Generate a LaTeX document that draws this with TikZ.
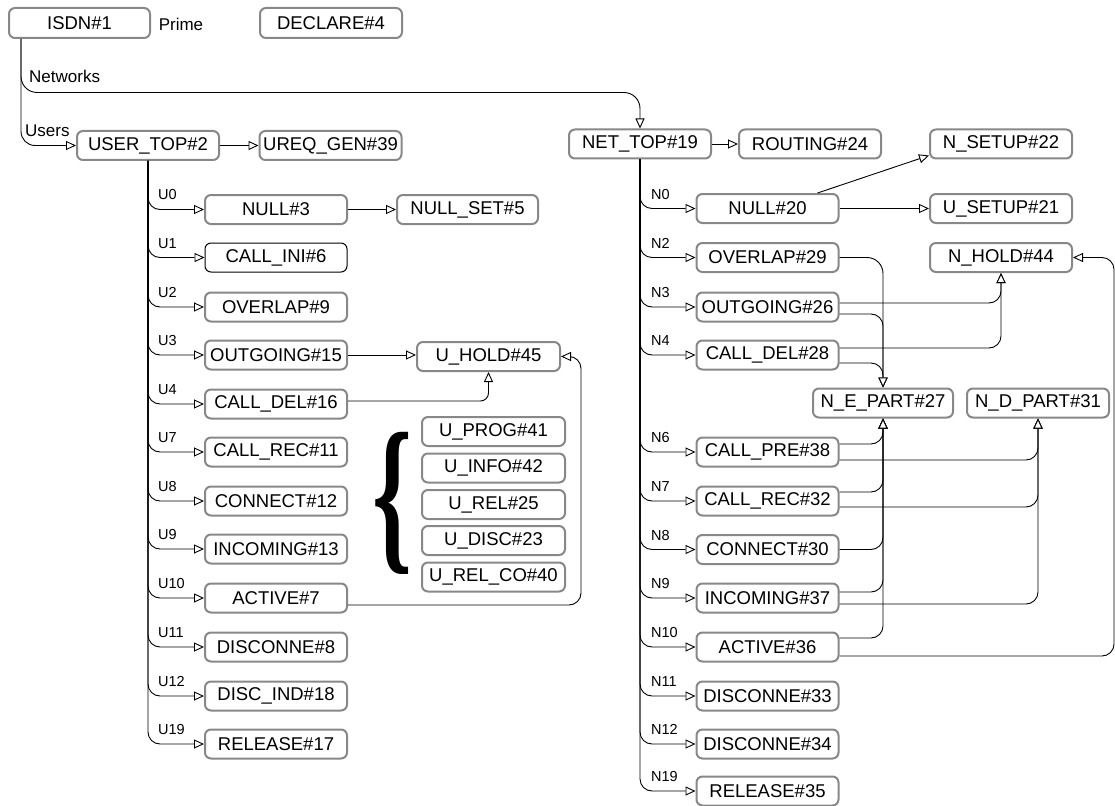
\documentclass[tikz,border=0pt]{standalone}
\usepackage{fontspec}
\setmainfont{Liberation Sans}
\newfontfamily\seriffont{Liberation Serif}
\usetikzlibrary{arrows.meta}
\definecolor{bord}{RGB}{136,136,136}
\begin{document}
\begin{tikzpicture}[x=1pt,y=-1pt,
  box/.style={rectangle, rounded corners=6pt, draw=bord, line width=2pt, fill=white,
    minimum width=142pt, minimum height=29pt, inner sep=1pt, font=\fontsize{18.5}{20}\selectfont},
  lbl/.style={inner sep=0pt, font=\fontsize{14.5}{16}\selectfont, anchor=base west},
  elbl/.style={inner sep=0pt, font=\fontsize{17}{19}\selectfont, anchor=base west},
  arr/.style={draw=black, line width=0.9pt, -{Triangle[length=10pt,width=9pt,fill=white,line width=0.9pt]}},
  con/.style={arr, rounded corners=12pt}]
\fill[white] (0,0) rectangle (1115,805);
\useasboundingbox (0,0) rectangle (1115,805);

% top row
\node[box, minimum width=141pt, minimum height=30pt] (isdn) at (79.5,23) {ISDN\#1};
\node[elbl, anchor=center] (prime) at (181,24) {Prime};
\node[box, minimum height=30pt] (declare) at (331,23) {DECLARE\#4};

\node[box] (utop) at (148,145.5) {USER\_TOP\#2};
\node[box] (ureq) at (330.5,145.5) {UREQ\_GEN\#39};
\node[box] (nettop) at (640,144) {NET\_TOP\#19};
\node[box] (routing) at (810,144) {ROUTING\#24};
\node[box] (nsetup) at (1001,144) {N\_SETUP\#22};

% left column
\node[box] (null3) at (276,209.5) {NULL\#3};
\node[box, draw=black, line width=1pt] (cini6) at (276,257.5) {CALL\_INI\#6};
\node[box] (ovl9) at (276,307) {OVERLAP\#9};
\node[box] (out15) at (276,355) {OUTGOING\#15};
\node[box] (cdel16) at (276,404) {CALL\_DEL\#16};
\node[box] (crec11) at (276,452) {CALL\_REC\#11};
\node[box] (conn12) at (276,501) {CONNECT\#12};
\node[box] (inc13) at (276,549) {INCOMING\#13};
\node[box] (act7) at (276,598) {ACTIVE\#7};
\node[box] (disc8) at (276,647) {DISCONNE\#8};
\node[box] (dind18) at (276,696) {DISC\_IND\#18};
\node[box] (rel17) at (276,744) {RELEASE\#17};

\node[box, minimum width=141pt] (nullset5) at (467.5,209.5) {NULL\_SET\#5};
\node[box, minimum width=143pt] (uhold) at (488.5,356.5) {U\_HOLD\#45};
\node[box, minimum width=143pt] (uprog) at (493.5,431.5) {U\_PROG\#41};
\node[box, minimum width=143pt] (uinfo) at (493.5,468) {U\_INFO\#42};
\node[box, minimum width=143pt] (urel) at (493.5,504.5) {U\_REL\#25};
\node[box, minimum width=143pt] (udisc) at (493.5,540.5) {U\_DISC\#23};
\node[box, minimum width=143pt] (urelco) at (493.5,577) {U\_REL\_CO\#40};
\node[inner sep=0pt] (brace) at (392.5,503) {\resizebox*{40pt}{142pt}{\seriffont\bfseries\{}};

% right column
\node[box] (null20) at (767.5,208.5) {NULL\#20};
\node[box] (ovl29) at (767.5,257.5) {OVERLAP\#29};
\node[box] (out26) at (767.5,307) {OUTGOING\#26};
\node[box] (cdel28) at (767.5,355) {CALL\_DEL\#28};
\node[box] (cpre38) at (767.5,452) {CALL\_PRE\#38};
\node[box] (crec32) at (767.5,501) {CALL\_REC\#32};
\node[box] (conn30) at (767.5,549.5) {CONNECT\#30};
\node[box] (inc37) at (767.5,598) {INCOMING\#37};
\node[box] (act36) at (767.5,647) {ACTIVE\#36};
\node[box] (disc33) at (767.5,696) {DISCONNE\#33};
\node[box] (disc34) at (767.5,744) {DISCONNE\#34};
\node[box] (rel35) at (767.5,791) {RELEASE\#35};

\node[box] (usetup) at (1001,208.5) {U\_SETUP\#21};
\node[box] (nhold) at (1001,257.5) {N\_HOLD\#44};
\node[box, minimum width=140pt] (nepart) at (883,403) {N\_E\_PART\#27};
\node[box] (ndpart) at (1038,403) {N\_D\_PART\#31};

% ISDN connectors
\draw[con, rounded corners=16pt] ([xshift=13pt]isdn.south west) |- ([yshift=36pt]nettop.north) -- (nettop.north);
\node[elbl] (lnet) at (29,83) {Networks};
\draw[con, rounded corners=14pt] ([xshift=13pt]isdn.south west) |- (utop.west);
\node[elbl] (lusr) at (25,137) {Users};

\draw[arr] (utop.east) -- (ureq.west);
\draw[arr] (nettop.east) -- (routing.west);

% user branches
\foreach \n/\l in {null3/U0, cini6/U1, ovl9/U2, out15/U3, cdel16/U4, crec11/U7, conn12/U8, inc13/U9, act7/U10, disc8/U11, dind18/U12, rel17/U19}{
  \draw[con] (utop.south) |- (\n.west);
  \node[lbl] at ([xshift=10pt,yshift=9.5pt]utop.south |- \n.west) {\l};
}
% network branches
\foreach \n/\l in {null20/N0, ovl29/N2, out26/N3, cdel28/N4, cpre38/N6, crec32/N7, conn30/N8, inc37/N9, act36/N10, disc33/N11, disc34/N12, rel35/N19}{
  \draw[con] (nettop.south) |- (\n.west);
  \node[lbl] at ([xshift=11pt,yshift=9.5pt]nettop.south |- \n.west) {\l};
}

% left cross connectors
\draw[arr] (null3.east) -- (nullset5.west);
\draw[arr] (out15.east) -- (out15.east -| uhold.west);
\draw[con, rounded corners=8pt] ([yshift=3pt]cdel16.east) -| (uhold.south);
\draw[con] ([yshift=-7pt]act7.east) -| ([xshift=20pt]uhold.east) -- (uhold.east);

% right cross connectors
\draw[arr] (null20.east) -- (usetup.west);
\draw[arr] ([xshift=50pt]null20.north) -- ([yshift=4pt]nsetup.south west);
\draw[con, rounded corners=16pt] (ovl29.east) -| (nepart.north);
\draw[con] ([yshift=4pt]out26.east) -| (nhold.south);
\draw[con] ([yshift=-7pt]out26.east) -| (nepart.north);
\draw[con] ([yshift=7pt]cdel28.east) -| (nhold.south);
\draw[con] ([yshift=-8pt]cdel28.east) -| (nepart.north);
\draw[con] ([yshift=8pt]cpre38.east) -| (nepart.south);
\draw[con] ([yshift=-8pt]cpre38.east) -| (ndpart.south);
\draw[con] ([yshift=9pt]crec32.east) -| (nepart.south);
\draw[con] ([yshift=-6pt]crec32.east) -| (ndpart.south);
\draw[con] (conn30.east) -| (nepart.south);
\draw[con] ([yshift=6pt]inc37.east) -| (nepart.south);
\draw[con] ([yshift=-6pt]inc37.east) -| (ndpart.south);
\draw[con] ([yshift=9pt]act36.east) -| (nepart.south);
\draw[con] ([yshift=-9pt]act36.east) -| ([xshift=41pt]nhold.east) -- (nhold.east);
\end{tikzpicture}
\end{document}
